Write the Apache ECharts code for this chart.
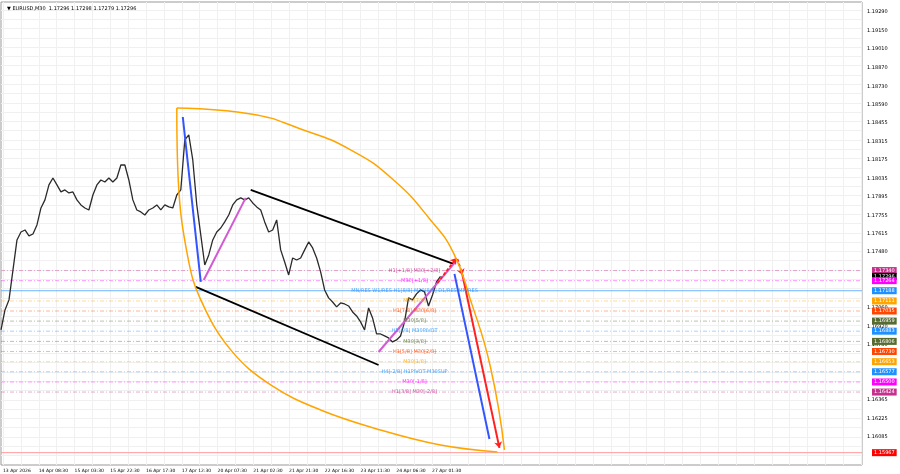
<!DOCTYPE html>
<html><head><meta charset="utf-8">
<script src="https://cdn.jsdelivr.net/npm/echarts@6/dist/echarts.min.js"></script>
<style>html,body{margin:0;padding:0;background:#fff}#c{width:900px;height:474px}</style>
</head><body><div id="c"></div>
<script>
// x unit = sample index (one sample ~ 4 M30 bars)
const closes=[1.16892,1.17043,1.17119,1.17345,1.17571,1.17631,1.17646,1.17601,1.17616,1.17684,1.17812,1.17873,1.17986,1.18038,1.17986,1.17933,1.17948,1.17925,1.17933,1.17873,1.17835,1.17812,1.17797,1.17910,1.17986,1.18023,1.18008,1.18038,1.18008,1.18038,1.18136,1.18136,1.18023,1.17873,1.17797,1.17782,1.17759,1.17797,1.17812,1.17835,1.17797,1.17835,1.17820,1.17812,1.17910,1.17948,1.18325,1.18363,1.18174,1.17835,1.17609,1.17382,1.17458,1.17571,1.17631,1.17661,1.17707,1.17759,1.17835,1.17873,1.17888,1.17873,1.17888,1.17850,1.17820,1.17797,1.17707,1.17631,1.17646,1.17722,1.17496,1.17405,1.17307,1.17435,1.17420,1.17435,1.17496,1.17556,1.17511,1.17435,1.17330,1.17194,1.17134,1.17103,1.17066,1.17096,1.17088,1.17073,1.17028,1.16998,1.16953,1.16892,1.17058,1.16983,1.16862,1.16862,1.16847,1.16832,1.16802,1.16817,1.16847,1.16953,1.17134,1.17119,1.17164,1.17194,1.17179,1.17073,1.17156,1.17254,1.17296];
const xLabels=['13 Apr 2026','14 Apr 08:30','15 Apr 03:30','15 Apr 22:30','16 Apr 17:30','17 Apr 12:30','20 Apr 07:30','21 Apr 02:30','21 Apr 21:30','22 Apr 16:30','23 Apr 11:30','24 Apr 06:30','27 Apr 01:30'];
const xTicks=[0.5,9.45,18.4,27.35,36.3,45.25,54.2,63.15,72.1,81.05,90,98.95,107.9];
const yTicks=[1.16085,1.16225,1.16365,1.16780,1.16920,1.17060,1.17480,1.17615,1.17755,1.17895,1.18035,1.18175,1.18315,1.18455,1.18590,1.18730,1.18870,1.19010,1.19150,1.19290];
const levelPrices=[1.17340,1.17296,1.17264,1.17188,1.17111,1.17035,1.16959,1.16883,1.16806,1.16730,1.16653,1.16577,1.16500,1.16424,1.15967];
const levelColors=['#c8308f','#000000','#ff00ff','#1e90ff','#ffa500','#ff4500','#556b2f','#1e90ff','#556b2f','#ff4500','#ffa500','#1e90ff','#ff00ff','#c8308f','#ff0000'];
const levelTexts=['H1[+1/8] M30[+2/8]','','M30[+1/8]','MN/RES W1/RES H1[8/8] M30[8/8] D1/RES MN/RES','M30[7/8]','H1[7/8] M30[6/8]','M30[5/8]','H1[6/8] M30PIVOT','M30[3/8]','H1[5/8] M30[2/8]','M30[1/8]','H4[-2/8] H1PIVOT M30SUP','M30[-1/8]','H1[3/8] M30[-2/8]',''];
const upperArc=[[44,1.18566],[62.5,1.18521],[75,1.18408],[87.5,1.18250],[98.25,1.18023],[107.5,1.17722],[113.25,1.17473],[117.5,1.17119],[122.5,1.16613],[126,1.15988]];
const lowerArc=[[44,1.18566],[44.4,1.18001],[46.75,1.17443],[50,1.17119],[57.5,1.16742],[67.5,1.16478],[80,1.16289],[95,1.16138],[110,1.16025],[124.25,1.15972]];
const blueImpulse=[[45.5,1.18498],[50,1.17254]];
const magentaUp1=[[50.75,1.17269],[61.25,1.17888]];
const channelUpper=[[62.5,1.17948],[113.25,1.17390]];
const channelLower=[[48.75,1.17217],[94.5,1.16628]];
const magentaUp2=[[94.5,1.16726],[113.75,1.17405]];
const redDash1=[[109.25,1.17247],[114,1.17435]];
const redDash2=[[114.25,1.17428],[115.5,1.17307]];
const blueDown=[[113.5,1.17315],[122.25,1.16070]];
const redDown=[[115.5,1.17307],[124.75,1.16003]];
const labelX=103.5;
const XMAX=215.5, YMIN=1.15874, YMAX=1.19365;

const gridX=[];for(let v=0.5;v<XMAX;v+=4.475)gridX.push(+v.toFixed(3));
const gridY=[];for(let v=1.16085-0.0014;v<YMAX;v+=0.0007)gridY.push(+v.toFixed(5));

const seg=(coords,color,w,type,arrow)=>({type:'lines',coordinateSystem:'cartesian2d',silent:true,animation:false,z:5,
  symbol:arrow?['none','arrow']:['none','none'],symbolSize:arrow?6:0,
  lineStyle:{color,width:w,type:type||'solid',opacity:1},data:[{coords}]});

const series=[];
levelPrices.forEach((p,i)=>{
  const isCur=i===3, isRed=i===14, isBlack=i===1;
  series.push({type:'line',data:[[0,p],[XMAX,p]],symbol:'none',animation:false,silent:true,
    lineStyle:{color:isRed?'#ff9a9a':isCur?'#6fb4ff':isBlack?'rgba(0,0,0,0)':levelColors[i],width:1,opacity:isRed||isCur?1:0.4,type:isRed||isCur?'solid':[4,2,1,2]},
    endLabel:{show:true,formatter:p.toFixed(5),color:'#fff',backgroundColor:levelColors[i],fontSize:5,padding:[1,2],offset:[2,0],fontFamily:'DejaVu Sans'},z:2});
});
series.push({type:'line',data:closes.map((c,i)=>[i,c]),symbol:'none',lineStyle:{color:'#2a2a2a',width:1.3},animation:false,z:4});
series.push({type:'line',data:upperArc,smooth:0.5,symbol:'none',lineStyle:{color:'#ffa500',width:1.5},animation:false,z:5});
series.push({type:'line',data:lowerArc,smooth:0.4,symbol:'none',lineStyle:{color:'#ffa500',width:1.5},animation:false,z:5});
series.push(seg(blueImpulse,'#3355ff',2));
series.push(seg(magentaUp1,'#d25ad2',2));
series.push(seg(channelUpper,'#000',1.8));
series.push(seg(channelLower,'#000',1.8));
series.push(seg(magentaUp2,'#d25ad2',2));
series.push(seg(redDash1,'#ff2020',1.8,[3,2],true));
series.push(seg(redDash2,'#ff2020',1.8,[3,2],true));
series.push(seg(blueDown,'#3355ff',2));
series.push(seg(redDown,'#ff2020',2,'solid',true));
series.push({type:'scatter',symbolSize:0,animation:false,silent:true,z:6,
  data:levelTexts.map((t,i)=>({value:[labelX,levelPrices[i]],name:t,label:{color:levelColors[i]}})).filter(d=>d.name),
  label:{show:true,position:'inside',formatter:d=>d.name,fontSize:5,fontFamily:'DejaVu Sans'},
  itemStyle:{color:'transparent'}});

const chart=echarts.init(document.getElementById('c'),null,{renderer:'canvas'});
chart.setOption({
  backgroundColor:'#fff',animation:false,
  title:{text:'▼ EURUSD,M30  1.17296 1.17298 1.17279 1.17296',left:2,top:1,textStyle:{fontSize:5,fontWeight:'normal',color:'#000',fontFamily:'DejaVu Sans'}},
  grid:{left:1,right:38,top:2,bottom:9,show:true,borderColor:'#999',borderWidth:1},
  xAxis:[
    {type:'value',min:0,max:XMAX,axisLine:{show:false},axisTick:{show:false},splitLine:{show:false},
     axisLabel:{customValues:xTicks,formatter:v=>{const i=xTicks.findIndex(t=>Math.abs(t-v)<0.01);return i>=0?xLabels[i]:'';},align:'left',fontSize:4.5,margin:3,color:'#000',fontFamily:'DejaVu Sans',showMinLabel:true,showMaxLabel:true,hideOverlap:false}},
    {type:'value',min:0,max:XMAX,axisLine:{show:false},axisTick:{show:false,customValues:gridX},splitLine:{show:true,lineStyle:{color:'#f0f0f0',width:1}},
     axisLabel:{show:false,customValues:gridX}}
  ],
  yAxis:[
    {type:'value',position:'right',min:YMIN,max:YMAX,axisLine:{show:false},axisTick:{show:false},splitLine:{show:false},
     axisLabel:{customValues:yTicks,formatter:v=>v.toFixed(5),fontSize:5,margin:5,color:'#000',fontFamily:'DejaVu Sans'}},
    {type:'value',min:YMIN,max:YMAX,axisLine:{show:false},axisTick:{show:false,customValues:gridY},splitLine:{show:true,lineStyle:{color:'#f0f0f0'}},axisLabel:{show:false,customValues:gridY}}
  ],
  series
});
</script></body></html>
